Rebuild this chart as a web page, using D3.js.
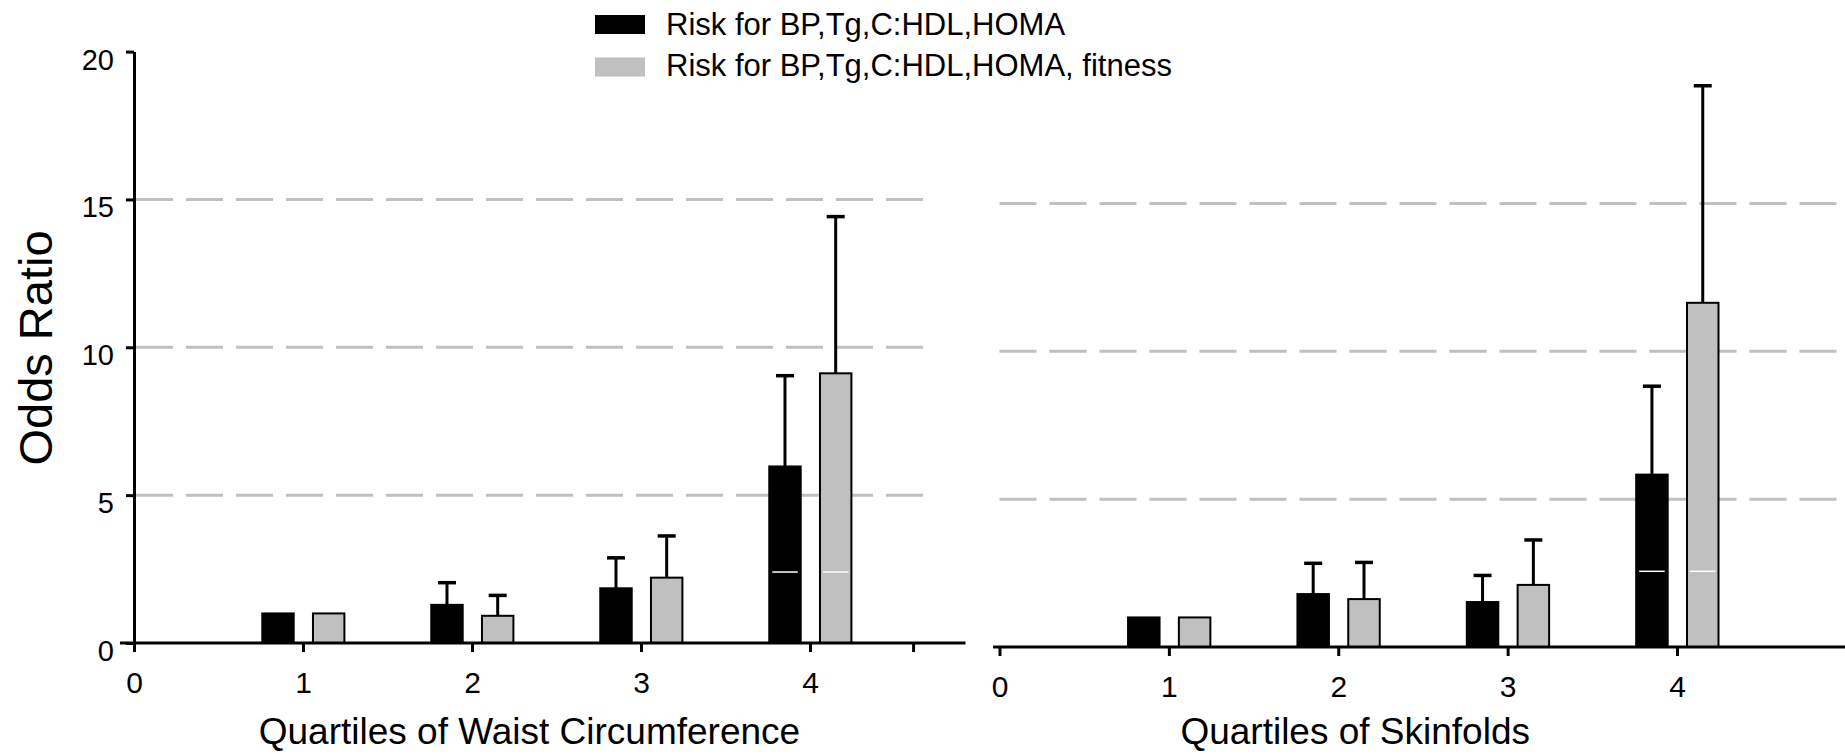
<!DOCTYPE html>
<html>
<head>
<meta charset="utf-8">
<script src="https://cdn.jsdelivr.net/npm/d3@7"></script>
<style>
  html, body { margin: 0; padding: 0; background: #fff; }
  svg { display: block; font-family: "Liberation Sans", Arial, Helvetica, sans-serif; }
</style>
</head>
<body>
<div id="chart"></div>
<script>
const quartiles = [1, 2, 3, 4];
const seriesNames = ["Risk for BP,Tg,C:HDL,HOMA", "Risk for BP,Tg,C:HDL,HOMA, fitness"];
const yTicks = [0, 5, 10, 15, 20];
const gridValues = [5, 10, 15];
const xTickLabels = ["0", "1", "2", "3", "4"];

// odds ratios and upper error bounds (null = no error bar)
const waistBase = [1.0, 1.29, 1.85, 5.97];
const waistBaseUpper = [null, 2.04, 2.88, 9.04];
const waistFit = [1.0, 0.92, 2.21, 9.12];
const waistFitUpper = [null, 1.61, 3.62, 14.42];

const skinBase = [1.0, 1.79, 1.52, 5.83];
const skinBaseUpper = [null, 2.83, 2.42, 8.82];
const skinFit = [1.0, 1.62, 2.10, 11.64];
const skinFitUpper = [null, 2.86, 3.62, 18.98];

const leftXTicks = [0, 1, 2, 3, 4, 4.61];
const rightXTicks = [0, 1, 2, 3, 4, 5];

const black = "#000";
const grey = "#c0c0c0";
const colors = d3.scaleOrdinal().domain(seriesNames).range([black, grey]);

const width = 1845, height = 754;

const svg = d3.select("#chart")
    .append("svg")
    .attr("width", width)
    .attr("height", height);

const panels = [
    {
        title: "Quartiles of Waist Circumference",
        x: d3.scaleLinear().domain([0, 4]).range([134, 810]),
        y: d3.scaleLinear().domain([0, 20]).range([643, 51.6]),
        xStart: -0.083, xEnd: 4.92, gridEnd: 4.73, gridStart: 0.012,
        titleAt: 2.34,
        ticks: leftXTicks,
        base: waistBase, baseUp: waistBaseUpper, fit: waistFit, fitUp: waistFitUpper,
        seam: 2.4,
        yAxis: true
    },
    {
        title: "Quartiles of Skinfolds",
        x: d3.scaleLinear().domain([0, 4]).range([999.5, 1677]),
        y: d3.scaleLinear().domain([0, 20]).range([647, 55.6]),
        xStart: -0.038, xEnd: 5.1, gridEnd: 5.1, gridStart: 0,
        titleAt: 2.1,
        ticks: rightXTicks,
        base: skinBase, baseUp: skinBaseUpper, fit: skinFit, fitUp: skinFitUpper,
        seam: 2.56,
        yAxis: false
    }
];

const offsets = [-0.148, 0.152];
const barW = 0.186;

panels.forEach(p => {
    const g = svg.append("g");
    const x = p.x, y = p.y;

    // dashed gridlines
    g.selectAll(".grid")
        .data(gridValues)
        .enter()
        .append("line")
        .attr("x1", x(p.gridStart))
        .attr("x2", x(p.gridEnd))
        .attr("y1", d => y(d))
        .attr("y2", d => y(d))
        .attr("stroke", grey)
        .attr("stroke-width", 3)
        .attr("stroke-dasharray", "37,13");

    const rows = [];
    quartiles.forEach((q, i) => {
        rows.push({ q, s: 0, v: p.base[i], up: p.baseUp[i] });
        rows.push({ q, s: 1, v: p.fit[i], up: p.fitUp[i] });
    });

    const bw = x(barW) - x(0);

    // error bars (drawn first so bar outline covers the stem)
    const err = rows.filter(d => d.up != null);
    g.selectAll(".stem")
        .data(err)
        .enter()
        .append("line")
        .attr("x1", d => x(d.q + offsets[d.s]))
        .attr("x2", d => x(d.q + offsets[d.s]))
        .attr("y1", d => y(d.v))
        .attr("y2", d => y(d.up))
        .attr("stroke", black)
        .attr("stroke-width", 3);
    g.selectAll(".cap")
        .data(err)
        .enter()
        .append("line")
        .attr("x1", d => x(d.q + offsets[d.s]) - 9)
        .attr("x2", d => x(d.q + offsets[d.s]) + 9)
        .attr("y1", d => y(d.up))
        .attr("y2", d => y(d.up))
        .attr("stroke", black)
        .attr("stroke-width", 3.5);

    g.selectAll(".bar")
        .data(rows)
        .enter()
        .append("rect")
        .attr("x", d => x(d.q + offsets[d.s]) - bw / 2)
        .attr("y", d => y(d.v))
        .attr("width", bw)
        .attr("height", d => y(0) - y(d.v))
        .attr("fill", d => colors(seriesNames[d.s]))
        .attr("stroke", black)
        .attr("stroke-width", 2);

    // thin white seam visible across the tallest bars
    g.selectAll(".seam")
        .data(rows.filter(d => d.q === 4))
        .enter()
        .append("line")
        .attr("x1", d => x(d.q + offsets[d.s]) - bw / 2 + 3)
        .attr("x2", d => x(d.q + offsets[d.s]) + bw / 2 - 3)
        .attr("y1", y(p.seam))
        .attr("y2", y(p.seam))
        .attr("stroke", "#fff")
        .attr("stroke-width", 1.5);

    // x axis
    const xAxis = g.append("g")
        .attr("transform", `translate(0,${y(0)})`)
        .call(d3.axisBottom(x).tickValues(p.ticks).tickSize(9).tickSizeOuter(0)
            .tickFormat(d => xTickLabels[d] || ""));
    xAxis.select(".domain").remove();
    xAxis.selectAll(".tick line").attr("stroke", black).attr("stroke-width", 3);
    xAxis.selectAll(".tick text")
        .attr("y", 50)
        .attr("dy", 0)
        .style("font-size", "30px")
        .attr("fill", black);
    g.append("line")
        .attr("x1", x(p.xStart))
        .attr("x2", x(p.xEnd))
        .attr("y1", y(0))
        .attr("y2", y(0))
        .attr("stroke", black)
        .attr("stroke-width", 3);

    g.append("text")
        .attr("x", x(p.titleAt))
        .attr("y", 744)
        .attr("text-anchor", "middle")
        .style("font-size", "37px")
        .text(p.title);

    if (p.yAxis) {
        const yAxis = g.append("g")
            .attr("transform", `translate(${x(0)},0)`)
            .call(d3.axisLeft(y).tickValues(yTicks).tickSize(8).tickSizeOuter(0).tickPadding(12));
        yAxis.select(".domain").attr("stroke", black).attr("stroke-width", 3);
        yAxis.selectAll(".tick line").attr("stroke", black).attr("stroke-width", 3);
        yAxis.selectAll(".tick text")
            .attr("dy", "0.6em")
            .style("font-size", "29px")
            .attr("fill", black);
    }
});

// y axis title
svg.append("text")
    .attr("transform", "translate(52,348) rotate(-90)")
    .attr("text-anchor", "middle")
    .style("font-size", "47px")
    .text("Odds Ratio");

// legend
const legend = svg.append("g").attr("transform", "translate(595,15)");
seriesNames.forEach((name, i) => {
    legend.append("rect")
        .attr("x", 0)
        .attr("y", i * 42.5)
        .attr("width", 50)
        .attr("height", 19)
        .attr("fill", colors(name));
    legend.append("text")
        .attr("x", 71)
        .attr("y", i * 41 + 20)
        .style("font-size", "31px")
        .text(name);
});
</script>
</body>
</html>
